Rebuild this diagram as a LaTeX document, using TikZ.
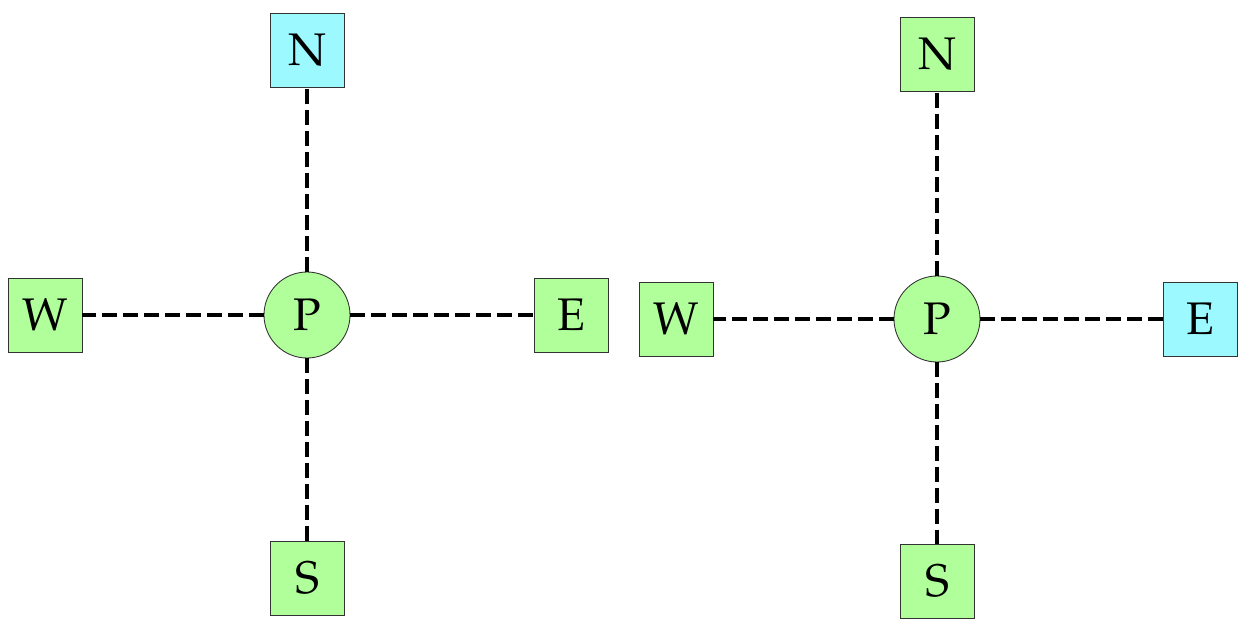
\documentclass[tikz,border=0pt]{standalone}
\usepackage[T1]{fontenc}
\usepackage{mathpazo}
\usepackage{xcolor}
\usepackage{tikz}
\usetikzlibrary{positioning}
\definecolor{cellgreen}{RGB}{176,255,154}
\definecolor{cellcyan}{RGB}{155,249,255}
\tikzset{
    cell/.style={draw=black!80, line width=0.5pt, minimum size=1.48cm, inner sep=0pt, font=\fontsize{26}{30}\selectfont},
    centre/.style={circle, draw=black!80, line width=0.5pt, fill=cellgreen, minimum size=1.72cm, inner sep=0pt, font=\fontsize{26}{30}\selectfont},
    link/.style={line width=2.3pt, dash pattern=on 8.5pt off 3.4pt}
}
\begin{document}
\begin{tikzpicture}
    \useasboundingbox (0,0) rectangle (25.08,12.6);
    % left stencil
    \node[centre] (P1) at (6.14,6.3) {P};
    \node[cell, fill=cellcyan] (N1) at (6.14,11.6) {N};
    \node[cell, fill=cellgreen] (W1) at (0.9,6.3) {W};
    \node[cell, fill=cellgreen] (E1) at (11.42,6.3) {E};
    \node[cell, fill=cellgreen] (S1) at (6.14,1.04) {S};
    \draw[link] (P1) -- (N1);
    \draw[link] (P1) -- (W1);
    \draw[link] (P1) -- (E1);
    \draw[link] (P1) -- (S1);
    % right stencil
    \node[centre] (P2) at (18.74,6.22) {P};
    \node[cell, fill=cellgreen] (N2) at (18.74,11.52) {N};
    \node[cell, fill=cellgreen] (W2) at (13.52,6.22) {W};
    \node[cell, fill=cellcyan] (E2) at (24.0,6.22) {E};
    \node[cell, fill=cellgreen] (S2) at (18.74,0.98) {S};
    \draw[link] (P2) -- (N2);
    \draw[link] (P2) -- (W2);
    \draw[link] (P2) -- (E2);
    \draw[link] (P2) -- (S2);
\end{tikzpicture}
\end{document}
